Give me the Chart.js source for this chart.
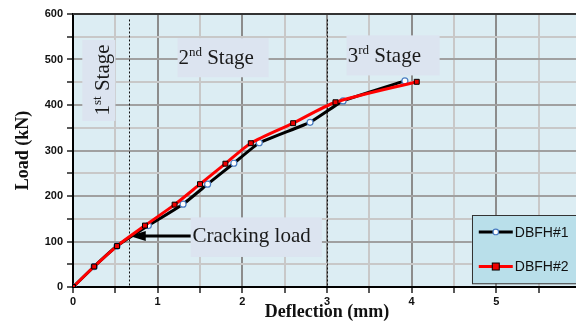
<!DOCTYPE html>
<html lang="en">
<head>
<meta charset="UTF-8">
<title>Load - Deflection</title>
<script src="https://cdn.jsdelivr.net/npm/chart.js"></script>
<style>
  html, body { margin: 0; padding: 0; background: #fff; overflow: hidden; }
  #wrap { width: 600px; height: 324px; }
</style>
</head>
<body>
<div id="wrap"><canvas id="loadChart" width="600" height="324"></canvas></div>
<script>
// load vs deflection, two specimens
const deflection1 = [0, 0.25, 0.52, 0.89, 1.30, 1.59, 1.90, 2.20, 2.80, 3.19, 3.92];
const load1       = [0, 45, 90, 135, 182, 226, 272, 317, 362, 409, 453];
const deflection2 = [0, 0.25, 0.52, 0.85, 1.20, 1.50, 1.80, 2.10, 2.60, 3.10, 4.06];
const load2       = [0, 45, 90, 135, 181, 226, 271, 316, 360, 406, 451];
const seriesNames = ['DBFH#1', 'DBFH#2'];
const xTickLabels = [0, 1, 2, 3, 4, 5];
const yTickLabels = [0, 100, 200, 300, 400, 500, 600];

// stage limits (deflection, mm) and cracking point
const stageLimits = [0.66, 3.0];
const crackPoint = { x: 0.67, y: 112 };

const toPoints = (xs, ys) => xs.map((x, i) => ({ x: x, y: ys[i] }));

const serif = '"Liberation Serif", "Times New Roman", serif';
const sans = '"Liberation Sans", Arial, sans-serif';

function stageText(ctx, x, y, num, sup, rest) {
    ctx.font = '21px ' + serif;
    ctx.fillText(num, x, y);
    let w = ctx.measureText(num).width;
    ctx.font = '13px ' + serif;
    ctx.fillText(sup, x + w, y - 8);
    w += ctx.measureText(sup).width;
    ctx.font = '21px ' + serif;
    ctx.fillText(' ' + rest, x + w, y);
}

const decorations = {
    id: 'decorations',
    beforeDraw(chart) {
        const { ctx, chartArea: a } = chart;
        ctx.save();
        ctx.fillStyle = '#dcedf3';
        ctx.fillRect(a.left, a.top, a.right - a.left, a.bottom - a.top);
        ctx.restore();
    },
    beforeDatasetsDraw(chart) {
        const { ctx, chartArea: a, scales: { x, y } } = chart;
        ctx.save();
        // top frame line
        ctx.strokeStyle = '#333';
        ctx.lineWidth = 2;
        ctx.beginPath();
        ctx.moveTo(a.left, a.top);
        ctx.lineTo(a.right, a.top);
        ctx.stroke();

        // stage boundaries
        ctx.strokeStyle = '#111';
        ctx.lineWidth = 1;
        ctx.setLineDash([2, 2]);
        stageLimits.forEach(v => {
            const px = Math.round(x.getPixelForValue(v)) + 0.5;
            ctx.beginPath();
            ctx.moveTo(px, y.getPixelForValue(588));
            ctx.lineTo(px, a.bottom);
            ctx.stroke();
        });
        ctx.setLineDash([]);

        // label boxes
        ctx.fillStyle = '#dce4f0';
        const box = (x0, x1, y0, y1) => {
            const l = x.getPixelForValue(x0), r = x.getPixelForValue(x1);
            const t = y.getPixelForValue(y0), b = y.getPixelForValue(y1);
            ctx.fillRect(l, t, r - l, b - t);
        };
        box(0.11, 0.50, 543, 365);
        box(1.235, 2.31, 547, 461);
        box(3.23, 4.33, 553, 465);
        box(1.39, 2.94, 153, 66);

        ctx.fillStyle = '#1a1a1a';
        ctx.textBaseline = 'alphabetic';
        ctx.textAlign = 'left';
        // 1st stage, rotated
        ctx.save();
        ctx.translate(x.getPixelForValue(0.42), y.getPixelForValue(455));
        ctx.rotate(-Math.PI / 2);
        ctx.font = '21px ' + serif;
        const w1 = ctx.measureText('1').width;
        ctx.font = '13px ' + serif;
        const w2 = ctx.measureText('st').width;
        ctx.font = '21px ' + serif;
        const w3 = ctx.measureText(' Stage').width;
        stageText(ctx, -(w1 + w2 + w3) / 2, 0, '1', 'st', 'Stage');
        ctx.restore();

        stageText(ctx, x.getPixelForValue(1.245), y.getPixelForValue(491), '2', 'nd', 'Stage');
        stageText(ctx, x.getPixelForValue(3.245), y.getPixelForValue(495), '3', 'rd', 'Stage');

        ctx.font = '21px ' + serif;
        ctx.fillText('Cracking load', x.getPixelForValue(1.41), y.getPixelForValue(99));

        // arrow to cracking point
        const tipX = x.getPixelForValue(crackPoint.x);
        const tipY = y.getPixelForValue(crackPoint.y);
        const tailX = x.getPixelForValue(1.39);
        ctx.strokeStyle = '#000';
        ctx.lineWidth = 3;
        ctx.beginPath();
        ctx.moveTo(tailX, tipY);
        ctx.lineTo(tipX + 12, tipY);
        ctx.stroke();
        ctx.fillStyle = '#000';
        ctx.beginPath();
        ctx.moveTo(tipX, tipY);
        ctx.lineTo(tipX + 16, tipY - 5);
        ctx.lineTo(tipX + 16, tipY + 5);
        ctx.closePath();
        ctx.fill();
        ctx.restore();
    },
    afterDraw(chart) {
        // legend box inside the plot, lower right
        const { ctx, scales: { x, y } } = chart;
        const l = x.getPixelForValue(4.71), r = x.getPixelForValue(6.02);
        const t = y.getPixelForValue(158), b = y.getPixelForValue(8);
        ctx.save();
        ctx.fillStyle = '#b9dfea';
        ctx.fillRect(l, t, r - l, b - t);
        ctx.strokeStyle = '#333';
        ctx.lineWidth = 1;
        ctx.strokeRect(Math.round(l) + 0.5, Math.round(t) + 0.5, r - l, b - t);

        const rows = [
            { name: seriesNames[0], line: '#000', yv: 121 },
            { name: seriesNames[1], line: '#f00', yv: 45 }
        ];
        const sx0 = l + 7, sx1 = l + 41, mx = l + 24;
        rows.forEach((row, i) => {
            const py = y.getPixelForValue(row.yv);
            ctx.strokeStyle = row.line;
            ctx.lineWidth = 3;
            ctx.beginPath();
            ctx.moveTo(sx0, py);
            ctx.lineTo(sx1, py);
            ctx.stroke();
            if (i === 0) {
                ctx.fillStyle = '#fff';
                ctx.strokeStyle = '#4a7cc2';
                ctx.lineWidth = 1.2;
                ctx.beginPath();
                ctx.arc(mx, py, 2.8, 0, Math.PI * 2);
                ctx.fill();
                ctx.stroke();
            } else {
                ctx.fillStyle = '#e00';
                ctx.strokeStyle = '#000';
                ctx.lineWidth = 1;
                ctx.fillRect(mx - 3.5, py - 3.5, 7, 7);
                ctx.strokeRect(mx - 3.5, py - 3.5, 7, 7);
            }
            ctx.fillStyle = '#111';
            ctx.font = '14px ' + sans;
            ctx.textBaseline = 'middle';
            ctx.fillText(row.name, sx1 + 2, py + 1);
        });
        ctx.restore();
    }
};

const data = {
    datasets: [
        {
            label: seriesNames[0],
            data: toPoints(deflection1, load1),
            borderColor: '#000',
            borderWidth: 3,
            tension: 0.1,
            pointStyle: 'circle',
            pointRadius: 3,
            pointBackgroundColor: '#fff',
            pointBorderColor: '#4a7cc2',
            pointBorderWidth: 1.2,
            order: 2
        },
        {
            label: seriesNames[1],
            data: toPoints(deflection2, load2),
            borderColor: '#f00',
            borderWidth: 3,
            tension: 0.25,
            pointStyle: 'rect',
            pointRadius: 3.5,
            pointBackgroundColor: '#e00',
            pointBorderColor: '#000',
            pointBorderWidth: 1,
            order: 1
        }
    ]
};

const config = {
    type: 'line',
    data: data,
    options: {
        responsive: false,
        animation: false,
        layout: { padding: { left: 0, top: 14, right: 19, bottom: 0 } },
        plugins: {
            legend: { display: false },
            tooltip: { enabled: false }
        },
        scales: {
            x: {
                type: 'linear',
                min: 0,
                max: 6,
                afterFit: s => { s.height = 37; },
                afterBuildTicks: s => {
                    s.ticks = [];
                    for (let v = 0; v <= 12; v++) s.ticks.push({ value: v / 2 });
                },
                ticks: {
                    autoSkip: false,
                    maxRotation: 0,
                    padding: 2,
                    color: '#111',
                    font: { family: sans, size: 11, weight: 'bold' },
                    callback: v => (xTickLabels.includes(v) ? String(v) : '')
                },
                grid: {
                    color: c => (c.tick && c.tick.value % 1 === 0 ? '#8c8c8c' : '#c8c8c8'),
                    lineWidth: 2,
                    tickColor: '#222',
                    tickWidth: 1.5,
                    tickLength: 6
                },
                border: { color: '#000', width: 2 },
                title: {
                    display: true,
                    text: 'Deflection (mm)',
                    color: '#111',
                    font: { family: serif, size: 18, weight: 'bold' },
                    padding: { top: 0, bottom: 1 }
                }
            },
            y: {
                type: 'linear',
                min: 0,
                max: 600,
                afterFit: s => { s.width = 73; },
                afterBuildTicks: s => {
                    s.ticks = [];
                    for (let v = 0; v <= 600; v += 50) s.ticks.push({ value: v });
                },
                ticks: {
                    autoSkip: false,
                    padding: 4,
                    color: '#111',
                    font: { family: sans, size: 11, weight: 'bold' },
                    callback: v => (yTickLabels.includes(v) ? String(v) : '')
                },
                grid: {
                    color: c => (c.tick && c.tick.value % 100 === 0 ? '#a0a0a0' : '#c8c8c8'),
                    lineWidth: 2,
                    tickColor: '#222',
                    tickWidth: 1.5,
                    tickLength: 6
                },
                border: { color: '#000', width: 2 },
                title: {
                    display: true,
                    text: 'Load (kN)',
                    color: '#111',
                    font: { family: serif, size: 18, weight: 'bold' },
                    padding: { top: 13, bottom: 0 }
                }
            }
        }
    },
    plugins: [decorations]
};

const loadChart = new Chart(document.getElementById('loadChart'), config);
</script>
</body>
</html>
